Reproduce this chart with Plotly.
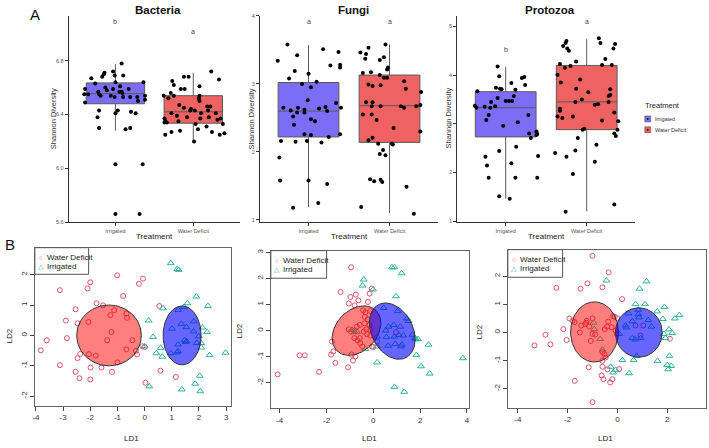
import numpy as np
import plotly.graph_objects as go

W, H = 709, 448
FONT = "Liberation Sans, Arial, sans-serif"

# ---------------- data: panel A (Shannon diversity) ----------------
groups = ["Irrigated", "Water Deficit"]
box_colors = ["#7C6DF6", "#EE6262"]

bac_irr_vals = [6.78,6.72,6.71,6.70,6.69,6.69,6.67,6.68,6.64,6.64,6.63,6.61,6.60,6.59,6.59,6.55,6.55,6.59,6.58,6.57,
                6.57,6.56,6.54,6.54,6.55,6.57,6.53,6.53,6.53,6.53,6.54,6.51,6.49,6.50,6.43,6.43,6.41,6.38,6.42,6.41,
                6.30,6.30,6.29,6.03,6.03,5.66,5.66]
bac_irr_jit = [0.08,-0.03,-0.14,-0.15,0.10,-0.01,-0.31,-0.17,0.00,0.36,-0.26,0.06,-0.13,-0.39,-0.03,-0.35,-0.21,0.17,-0.11,0.05,
               0.08,0.09,-0.19,-0.06,-0.40,-0.22,0.10,0.19,-0.01,0.28,0.38,0.38,-0.39,0.29,-0.21,0.03,0.00,-0.23,0.20,0.26,
               -0.21,0.19,0.13,0.00,0.35,0.00,0.31]
bac_wd_vals = [6.72,6.68,6.68,6.66,6.65,6.61,6.62,6.59,6.59,6.56,6.54,6.54,6.52,6.54,6.52,6.50,6.47,6.46,6.46,6.45,
               6.44,6.43,6.43,6.43,6.41,6.41,6.41,6.37,6.35,6.39,6.37,6.38,6.37,6.36,6.38,6.33,6.31,6.33,6.34,6.34,
               6.35,6.29,6.28,6.27,6.25,6.27,6.25,6.26,6.20]
bac_wd_jit = [0.23,-0.12,-0.06,0.33,-0.27,0.08,-0.25,-0.16,-0.11,-0.29,-0.38,-0.25,-0.32,0.08,0.07,0.08,-0.18,0.22,0.18,-0.12,
              -0.03,-0.04,0.02,0.19,0.10,-0.28,0.29,-0.37,-0.36,-0.21,0.09,0.20,0.35,0.31,-0.08,0.03,0.17,0.38,-0.37,-0.34,
              -0.19,0.06,-0.17,-0.28,-0.36,0.24,0.34,0.40,0.01]

fun_irr_vals = [3.58,3.34,3.42,3.51,3.47,3.28,3.24,3.27,3.08,3.19,3.15,3.00,3.03,2.95,2.76,2.65,2.61,2.65,2.64,2.66,
                2.60,2.72,2.65,2.62,2.58,2.58,2.52,2.48,2.45,2.40,2.26,2.26,2.25,2.22,2.16,2.15,2.16,2.14,1.92,1.58,
                1.58,1.53,1.25,1.18]
fun_irr_jit = [-0.26,-0.38,-0.14,0.18,0.37,0.39,0.39,0.27,-0.24,-0.17,0.00,-0.08,0.10,0.03,-0.01,-0.31,-0.22,-0.13,0.13,0.21,
               0.23,0.34,0.40,-0.05,-0.05,-0.14,-0.19,0.03,0.08,-0.18,0.39,-0.05,0.03,0.25,-0.34,-0.16,-0.02,0.16,-0.36,-0.35,
               0.00,0.23,0.12,-0.19]
fun_wd_vals = [3.46,3.53,3.44,3.37,3.58,3.39,3.35,3.21,3.24,3.09,3.09,3.16,3.17,3.13,3.04,2.99,2.98,2.97,2.93,2.88,
               2.73,2.73,2.67,2.67,2.55,2.55,2.47,2.67,2.65,2.67,2.69,2.35,2.30,2.17,2.21,2.12,2.12,2.11,2.03,1.97,
               1.95,1.60,1.57,1.59,1.56,1.49,1.19,1.09]
fun_wd_jit = [-0.36,-0.26,-0.29,-0.30,-0.05,-0.07,-0.12,-0.03,-0.02,-0.07,-0.03,-0.33,-0.23,-0.12,0.18,-0.26,-0.11,-0.21,0.20,0.39,
              -0.29,-0.21,-0.11,-0.22,-0.33,-0.22,-0.16,0.14,0.18,0.33,0.38,0.05,0.38,-0.26,-0.21,-0.14,0.03,0.04,-0.08,-0.12,
              -0.05,-0.24,-0.19,-0.11,-0.09,0.21,-0.35,0.30]

pro_irr_vals = [4.18,3.98,3.94,3.96,3.80,3.84,3.74,3.72,3.71,3.67,3.70,3.53,3.57,3.45,3.47,3.47,3.47,3.37,3.33,3.33,
                3.35,3.36,3.18,3.08,3.18,3.03,2.96,2.80,2.84,2.77,2.79,2.71,2.53,2.44,2.32,2.34,2.14,2.19,1.89,1.89,
                1.89,1.51,1.46]
pro_irr_jit = [-0.10,-0.08,0.20,0.23,0.24,0.07,-0.12,-0.07,-0.05,-0.35,0.12,-0.10,0.10,-0.18,0.00,0.04,0.08,-0.38,-0.36,-0.19,
               -0.26,-0.13,-0.21,-0.24,0.28,0.15,-0.03,0.29,0.38,0.38,0.39,0.31,0.13,-0.08,-0.25,0.40,-0.23,0.07,-0.21,0.12,
               0.39,-0.08,0.05]
pro_wd_vals = [4.70,4.66,4.76,4.66,4.64,4.55,4.60,4.55,4.50,4.33,4.28,4.23,4.15,4.19,4.21,4.21,4.01,3.91,3.85,3.65,
               3.72,3.71,3.59,3.57,3.50,3.45,3.39,3.40,3.45,3.31,3.27,3.15,3.12,3.15,3.23,3.05,3.07,2.90,2.88,2.88,
               2.80,2.75,2.71,2.57,2.45,2.40,2.32,2.22,1.97,1.34,1.19]
pro_wd_jit = [-0.25,-0.26,0.15,0.17,0.35,0.33,-0.29,-0.24,-0.22,0.23,-0.13,-0.33,-0.27,-0.20,0.19,0.31,-0.36,-0.08,-0.32,0.02,
              -0.13,0.29,0.29,0.27,-0.06,-0.14,0.10,0.14,0.27,-0.33,-0.33,-0.36,-0.30,-0.17,0.34,0.39,0.19,-0.03,-0.05,0.38,
              0.34,0.36,-0.11,0.12,-0.14,-0.39,-0.25,0.10,-0.17,0.34,-0.26]

# box statistics [q1, median, q3, lower whisker, upper whisker] for Irrigated, Water Deficit
bac_stats = [[6.48, 6.555, 6.635, 6.28, 6.775], [6.335, 6.42, 6.54, 6.20, 6.71]]
fun_stats = [[2.22, 2.60, 3.02, 1.19, 3.57], [2.14, 2.68, 3.13, 1.10, 3.58]]
pro_stats = [[2.73, 3.33, 3.66, 1.46, 4.17], [2.88, 3.45, 4.20, 1.20, 4.74]]

bac_letters = [("b", 7.09), ("a", 7.02)]
fun_letters = [("a", 3.91), ("a", 3.91)]
pro_letters = [("b", 4.52), ("a", 5.10)]

bac_ticks = [5.6, 6.0, 6.4, 6.8]
bac_tick_labels = ["5.6", "6.0", "6.4", "6.8"]
fun_ticks = [1, 2, 3, 4]
fun_tick_labels = ["1", "2", "3", "4"]
pro_ticks = [1, 2, 3, 4, 5]
pro_tick_labels = ["1", "2", "3", "4", "5"]

# ---------------- data: panel B (LDA) ----------------
p1_wd_ld1 = [-1.01,-0.06,-2.00,-3.12,-2.10,-0.21,-0.79,-1.77,-1.53,-2.54,0.54,-1.12,-2.90,-2.47,-2.07,-0.67,-1.26,-0.65,-2.86,-1.22,
             -1.38,-0.45,-3.60,-3.82,-3.12,-2.47,-2.05,-1.80,-2.37,-0.32,-0.28,-0.08,0.01,-1.00,-1.59,-1.99,-2.54,-2.40,-2.00,-1.20,
             0.58,1.15,0.03,-0.67]
p1_wd_ld2 = [1.98,1.87,1.75,1.49,1.55,1.70,1.30,1.06,0.99,0.86,0.97,0.83,0.49,0.40,0.44,0.72,0.67,0.58,-0.09,0.11,
             -0.16,-0.16,-0.16,-0.49,-0.98,-0.75,-0.62,-0.67,-0.61,-0.51,-0.63,-0.36,-0.38,-0.89,-1.06,-1.06,-1.20,-1.41,-1.45,-1.20,
             -1.16,-1.37,-1.56,-0.46]
p1_ir_ld1 = [0.96,1.20,1.25,1.90,2.33,1.57,1.45,0.68,1.24,0.15,1.81,1.54,1.35,2.13,2.30,1.01,1.99,1.80,0.31,1.47,
             1.54,1.92,2.08,1.51,0.00,0.59,1.23,0.43,0.65,0.96,1.19,1.23,2.08,2.39,2.98,2.03,0.17,1.86,2.05,1.37]
p1_ir_ld2 = [2.38,2.19,2.16,1.28,0.97,1.06,0.94,0.89,0.84,0.49,0.46,0.27,0.38,0.26,0.11,0.22,-0.03,0.13,-0.05,-0.16,
             -0.19,-0.25,-0.25,-0.22,-0.36,-0.41,-0.30,-0.59,-0.70,-0.59,-0.56,-0.52,-0.40,-0.65,-0.57,-1.33,-1.68,-1.59,-1.84,-1.78]

p2_wd_ld1 = [-0.95,-0.07,-1.40,-0.98,-0.75,-0.16,-1.05,-0.80,-0.64,-0.23,-0.44,-0.34,-0.13,-0.36,-0.38,-0.24,-0.16,-0.70,-0.58,-0.30,
             -0.41,-1.05,-0.95,-0.81,-0.13,-0.58,-0.67,-0.56,-0.47,-0.06,-1.77,-1.71,-0.93,-0.77,-0.87,-1.08,-1.62,-1.81,-2.32,-2.93,
             -3.15,-4.09,0.16,0.00,0.97,-0.27,-0.13,-0.81]
p2_wd_ld2 = [2.43,1.61,1.48,1.29,1.38,1.42,1.04,0.97,1.16,1.10,0.78,0.70,0.75,0.53,0.28,0.43,0.22,0.15,0.22,0.05,
             -0.04,0.05,-0.04,0.00,0.03,-0.29,-0.38,-0.48,-0.61,-0.61,-0.42,-0.80,-0.92,-0.99,-1.15,-1.41,-1.24,-0.92,-1.58,-0.95,
             -0.95,-1.68,-0.42,-0.63,-0.06,-0.14,-0.19,-0.29]
p2_ir_ld1 = [0.80,0.90,1.21,-0.41,-0.46,-0.01,0.97,0.44,1.04,1.44,1.51,0.87,0.65,1.15,0.53,1.08,1.28,1.67,1.78,0.90,
             0.16,0.56,1.22,1.18,1.82,1.91,0.94,0.63,0.16,-0.34,-0.70,-0.91,-0.80,2.36,1.84,2.04,2.41,0.16,0.90,1.32,3.83]
p2_ir_ld2 = [2.43,2.43,2.20,1.96,1.73,1.58,1.32,0.87,0.75,0.47,0.37,0.22,0.15,0.15,0.00,-0.16,-0.19,-0.16,-0.29,-0.23,
             -0.23,-0.25,-0.54,-0.61,-0.33,-0.33,-0.51,-0.58,-0.61,-0.71,-0.04,0.03,-0.06,-0.54,-0.94,-1.37,-1.65,-1.22,-2.16,-2.35,-1.06]

p3_wd_ld1 = [-1.00,-0.35,-2.45,-1.20,-0.60,-1.48,0.19,-1.93,-1.23,-1.25,-1.80,-1.72,-1.45,-1.29,-1.00,-0.37,-0.17,-0.11,0.00,-2.17,
             -2.04,-1.51,-1.13,-0.51,-0.41,-0.23,-0.07,-1.00,-0.89,-1.07,-2.89,-3.33,-2.69,-0.03,0.73,1.04,-0.60,-0.52,-0.47,-0.60,
             -1.15,-0.60,-0.40,0.07,-0.63,-0.56,-0.20,-0.29,-1.71,-1.00,2.11,0.93]
p3_wd_ld2 = [2.73,2.14,1.59,1.75,1.61,1.56,1.19,0.50,0.42,0.35,0.42,0.37,0.25,0.30,0.50,0.39,0.58,0.56,0.51,0.12,
             -0.27,0.00,0.21,0.12,0.21,0.19,0.07,-0.05,-0.07,-0.30,-0.08,-0.46,-0.42,-0.05,0.25,0.25,-0.69,-0.77,-0.89,-1.01,
             -1.24,-1.22,-1.31,-1.30,-1.53,-1.66,-1.66,-1.78,-1.72,-2.48,-0.22,-0.11]
p3_ir_ld1 = [-0.44,1.17,0.89,0.73,1.11,1.89,0.84,0.44,1.60,0.84,0.87,1.83,1.24,2.31,2.49,0.33,0.36,0.60,1.37,2.07,
             2.20,1.87,1.93,0.60,0.71,0.93,0.07,-0.96,-0.93,-0.69,-0.60,0.77,0.20,0.65,1.61,2.09,2.00,2.16,2.04,-0.27,
             -0.07,-0.17,0.47]
p3_ir_ld2 = [1.85,1.82,1.56,1.01,1.01,0.91,0.81,0.68,0.75,0.65,0.54,0.48,0.44,0.50,0.62,0.25,0.18,0.40,0.21,0.11,
             -0.02,-0.05,-0.19,-0.20,-0.25,-0.20,-0.05,0.35,0.12,-0.23,-0.61,-0.84,-0.98,-0.98,-1.01,-0.83,-1.16,-1.19,-1.31,-1.22,
             -1.33,-1.42,-1.45]

# confidence ellipses: centre LD1, centre LD2, sd LD1, sd LD2, covariance
ell_wd = [(-1.31, 0.00, 1.19, 1.00, 0.00), (-0.72, 0.00, 1.04, 0.95, 0.30), (-0.92, 0.02, 0.96, 1.07, 0.00)]
ell_ir = [(1.38, 0.00, 0.70, 0.97, 0.00), (0.81, -0.02, 0.98, 1.08, -0.31), (0.86, 0.00, 0.94, 0.88, 0.00)]

# ---------------- helpers ----------------
def PX(p):
    return p / W

def PY(p):
    return 1 - p / H

def ellipse(cx, cy, sx, sy, c, n=120):
    t = np.linspace(0, 2 * np.pi, n)
    l21 = c / sx
    l22 = np.sqrt(sy ** 2 - l21 ** 2)
    return cx + sx * np.cos(t), cy + l21 * np.cos(t) + l22 * np.sin(t)

fig = go.Figure()
ann = []
shapes = []

def text(x, y, s, size, color="#222", anchor="center", angle=0, bold=False, ref=("paper", "paper")):
    ann.append(dict(x=x, y=y, xref=ref[0], yref=ref[1], text=("<b>%s</b>" % s) if bold else s,
                    showarrow=False, xanchor=anchor, yanchor="middle", textangle=angle, borderpad=0,
                    font=dict(family=FONT, size=size, color=color)))

# ---------------- panel A ----------------
top = [
    ("Bacteria", bac_irr_vals, bac_irr_jit, bac_wd_vals, bac_wd_jit, bac_stats, bac_letters, bac_ticks, bac_tick_labels,
     [67, 239], [5.6, 7.134], 157, 52, 153),
    ("Fungi", fun_irr_vals, fun_irr_jit, fun_wd_vals, fun_wd_jit, fun_stats, fun_letters, fun_ticks, fun_tick_labels,
     [259, 438], [0.97, 4.0], 353, 250, 349),
    ("Protozoa", pro_irr_vals, pro_irr_jit, pro_wd_vals, pro_wd_jit, pro_stats, pro_letters, pro_ticks, pro_tick_labels,
     [457, 636], [0.98, 5.22], 550, 448, 547),
]
layout_axes = {}
for i, (name, iv, ij, wv, wj, stats, letters, ticks, tlabels, xpx, yr, tx, ylx, xtx) in enumerate(top):
    n = i + 1
    xa, ya = ("x%d" % n if n > 1 else "x"), ("y%d" % n if n > 1 else "y")
    for g in range(2):
        q1, med, q3, lo, hi = stats[g]
        fig.add_trace(go.Box(x=[g], q1=[q1], median=[med], q3=[q3], lowerfence=[lo], upperfence=[hi],
                             width=0.75, whiskerwidth=0, boxpoints=False, fillcolor=box_colors[g],
                             line=dict(color="#5a5a5a", width=1), xaxis=xa, yaxis=ya, showlegend=False,
                             hoverinfo="skip"))
    for g, (vals, jit) in enumerate([(iv, ij), (wv, wj)]):
        fig.add_trace(go.Scatter(x=[g + j for j in jit], y=vals, mode="markers", xaxis=xa, yaxis=ya,
                                 marker=dict(color="black", size=4), showlegend=False, hoverinfo="skip"))
    for g, (lab, yv) in enumerate(letters):
        text(g, yv, lab, 7, color="#444444", ref=(xa, ya))
    kx = "xaxis%d" % n if n > 1 else "xaxis"
    ky = "yaxis%d" % n if n > 1 else "yaxis"
    layout_axes[kx] = dict(domain=[PX(xpx[0]), PX(xpx[1])], range=[-0.6, 1.6], anchor=ya,
                           tickvals=[0, 1], ticktext=groups, showline=True, linecolor="#333", linewidth=1,
                           ticks="outside", ticklen=3, tickcolor="#333", showgrid=False, zeroline=False,
                           tickfont=dict(family=FONT, size=5.5, color="#555"))
    layout_axes[ky] = dict(domain=[PY(222), PY(13)], range=yr, anchor=xa, tickvals=ticks, ticktext=tlabels,
                           showline=True, linecolor="#333", linewidth=1, ticks="outside", ticklen=3,
                           tickcolor="#333", showgrid=False, zeroline=False,
                           tickfont=dict(family=FONT, size=5.5, color="#555"))
    text(PX(tx), PY(7.5), name, 11.5, color="#111", bold=True)
    text(PX(ylx), PY(117), "Shannon Diversity", 7.5, color="#333", angle=-90)
    text(PX(xtx), PY(236.5), "Treatment", 8, color="#222")

text(PX(33), PY(12), "A", 15, color="#111")

# top legend
text(PX(645), PY(104), "Treatment", 7.5, color="#222", anchor="left")
for g, (yc, lab) in enumerate([(117.5, "Irrigated"), (128.5, "Water Deficit")]):
    shapes.append(dict(type="rect", xref="paper", yref="paper", x0=PX(645.5), x1=PX(651.5),
                       y0=PY(yc + 3), y1=PY(yc - 3), fillcolor=box_colors[g], line=dict(color="#555", width=0.6)))
    shapes.append(dict(type="circle", xref="paper", yref="paper", x0=PX(647.6), x1=PX(649.4),
                       y0=PY(yc + 0.9), y1=PY(yc - 0.9), fillcolor="black", line=dict(width=0)))
    text(PX(655), PY(yc), lab, 5.5, color="#333", anchor="left")

# ---------------- panel B ----------------
pink, teal = "#DF536B", "#2FB396"
bottom = [
    (p1_wd_ld1, p1_wd_ld2, p1_ir_ld1, p1_ir_ld2, [33, 230], [248, 408], [-4.04, 3.18], [-2.31, 2.89],
     list(range(-4, 4)), [-2, -1, 0, 1, 2], (130, 441), (8, 337), [33, 87, 248, 275]),
    (p2_wd_ld1, p2_wd_ld2, p2_ir_ld1, p2_ir_ld2, [270, 469], [251, 411], [-4.38, 4.09], [-2.99, 3.07],
     [-4, -2, 0, 2, 4], [-2, -1, 0, 1, 2, 3], (369, 441), (239, 332), [270, 326, 251, 279]),
    (p3_wd_ld1, p3_wd_ld2, p3_ir_ld1, p3_ir_ld2, [508, 707], [250, 410], [-4.4, 3.56], [-2.67, 2.95],
     [-4, -2, 0, 2], [-2, -1, 0, 1, 2], (606, 441), (480, 333), [508, 563, 250, 278]),
]
for i, (wx, wy, ix, iy, xpx, ypx, xr, yr, xt, yt, ld1, ld2, lg) in enumerate(bottom):
    n = i + 4
    xa, ya = "x%d" % n, "y%d" % n
    fig.add_trace(go.Scatter(x=wx, y=wy, mode="markers", xaxis=xa, yaxis=ya, showlegend=False, hoverinfo="skip",
                             marker=dict(symbol="circle-open", size=5, color=pink, line=dict(width=1))))
    fig.add_trace(go.Scatter(x=ix, y=iy, mode="markers", xaxis=xa, yaxis=ya, showlegend=False, hoverinfo="skip",
                             marker=dict(symbol="triangle-up-open", size=6, color=teal, line=dict(width=1))))
    ex, ey = ellipse(*ell_wd[i])
    fig.add_trace(go.Scatter(x=ex, y=ey, mode="lines", fill="toself", fillcolor="rgba(255,0,0,0.5)",
                             line=dict(color="#333", width=1), xaxis=xa, yaxis=ya, showlegend=False, hoverinfo="skip"))
    ex, ey = ellipse(*ell_ir[i])
    fig.add_trace(go.Scatter(x=ex, y=ey, mode="lines", fill="toself", fillcolor="rgba(0,0,255,0.6)",
                             line=dict(color="#333", width=1), xaxis=xa, yaxis=ya, showlegend=False, hoverinfo="skip"))
    axstyle = dict(showline=True, mirror=True, linecolor="#666", linewidth=1, ticks="outside", ticklen=4,
                   tickcolor="#444", showgrid=False, zeroline=False,
                   tickfont=dict(family=FONT, size=8, color="#333"))
    layout_axes["xaxis%d" % n] = dict(domain=[PX(xpx[0]), PX(xpx[1])], range=xr, anchor=ya, tickvals=xt,
                                      ticktext=[str(v) for v in xt], **axstyle)
    layout_axes["yaxis%d" % n] = dict(domain=[PY(ypx[1]), PY(ypx[0])], range=yr, anchor=xa, tickvals=yt,
                                      ticktext=[str(v) for v in yt], tickangle=-90, **axstyle)
    text(PX(ld1[0]), PY(ld1[1]), "LD1", 8, color="#222")
    text(PX(ld2[0]), PY(ld2[1]), "LD2", 8, color="#222", angle=-90)
    # legend box
    shapes.append(dict(type="rect", xref="paper", yref="paper", x0=PX(lg[0]), x1=PX(lg[1]),
                       y0=PY(lg[3]), y1=PY(lg[2]), fillcolor="white", line=dict(color="#555", width=1)))
    y1 = lg[2] + 9.5
    y2 = lg[2] + 18.8
    text(PX(lg[0] + 6), PY(y1), "○", 6.5, color=pink)
    text(PX(lg[0] + 11), PY(y1), "Water Deficit", 8, color="#222", anchor="left")
    text(PX(lg[0] + 6), PY(y2), "△", 7, color=teal)
    text(PX(lg[0] + 11), PY(y2), "Irrigated", 8, color="#222", anchor="left")

text(PX(8), PY(245), "B", 15, color="#111")

fig.update_layout(width=W, height=H, margin=dict(l=0, r=0, t=0, b=0), paper_bgcolor="white",
                  plot_bgcolor="white", showlegend=False, annotations=ann, shapes=shapes,
                  font=dict(family=FONT), hovermode=False, **layout_axes)

fig.write_html("out.html", config={"displayModeBar": False, "staticPlot": True},
               post_script="document.body.style.margin='0';document.body.style.overflow='hidden';")
